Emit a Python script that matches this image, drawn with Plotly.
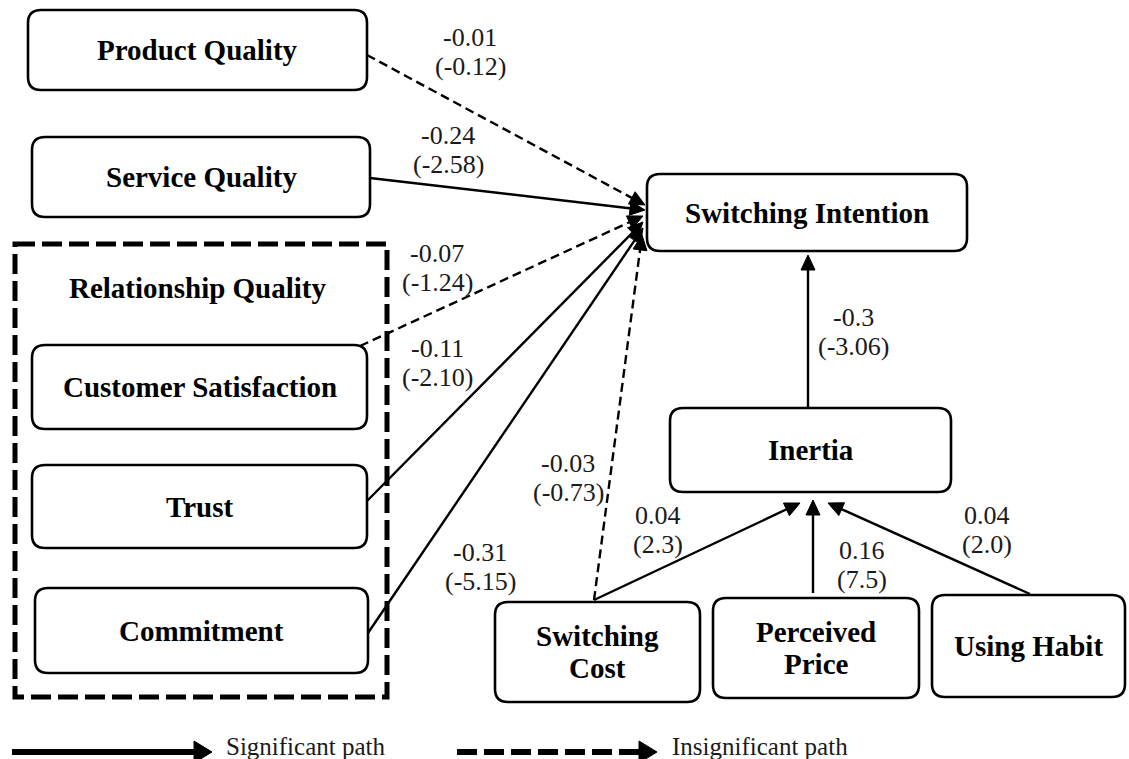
import math
import plotly.graph_objects as go

# ---------------- data ----------------
constructs = ["Product Quality", "Service Quality", "Customer Satisfaction", "Trust",
              "Commitment", "Switching Intention", "Inertia", "Switching Cost",
              "Perceived Price", "Using Habit"]
construct_labels = ["Product Quality", "Service Quality", "Customer Satisfaction", "Trust",
                    "Commitment", "Switching Intention", "Inertia", "Switching<br>Cost",
                    "Perceived<br>Price", "Using Habit"]
group_label = "Relationship Quality"

path_from = ["Product Quality", "Service Quality", "Customer Satisfaction", "Trust",
             "Commitment", "Switching Cost", "Switching Cost", "Perceived Price",
             "Using Habit", "Inertia"]
path_to = ["Switching Intention"] * 6 + ["Inertia"] * 3 + ["Switching Intention"]
path_beta = ["-0.01", "-0.24", "-0.07", "-0.11", "-0.31", "-0.03", "0.04", "0.16", "0.04", "-0.3"]
path_t = ["(-0.12)", "(-2.58)", "(-1.24)", "(-2.10)", "(-5.15)", "(-0.73)", "(2.3)", "(7.5)", "(2.0)", "(-3.06)"]
path_significant = [False, True, False, True, True, False, True, True, True, True]

legend_labels = ["Significant path", "Insignificant path"]

# ---------------- layout geometry (pixels) ----------------
W, H = 1129, 759
box_geom = {
    "Product Quality": (28, 10, 367, 90),
    "Service Quality": (32, 137, 370, 217),
    "Customer Satisfaction": (32, 345, 367, 429),
    "Trust": (32, 465, 367, 548),
    "Commitment": (35, 588, 368, 673),
    "Switching Intention": (647, 174, 967, 251),
    "Inertia": (670, 408, 951, 492),
    "Switching Cost": (495, 602, 700, 702),
    "Perceived Price": (713, 598, 919, 698),
    "Using Habit": (932, 595, 1125, 697),
}
group_geom = (15, 244, 387, 697)
group_label_pos = (198, 288)

edge_geom = [
    ((367, 55), (645, 205)),
    ((370, 178), (645, 210)),
    ((360, 346), (643, 216)),
    ((367, 501), (643, 222)),
    ((368, 633), (643, 228)),
    ((594, 600), (642, 235)),
    ((594, 600), (800, 503)),
    ((813, 593), (813, 500)),
    ((1030, 594), (828, 503)),
    ((808, 408), (808, 255)),
]
label_geom = [
    (470, 37), (448, 135), (437, 253), (437, 348), (480, 552),
    (568, 463), (658, 515), (862, 550), (987, 515), (853, 317),
]
LINE_GAP = 29

FONT = "Liberation Serif"
BOLD_SIZE = 29
NUM_SIZE = 26

shapes = []
annotations = []


def rrect(x0, y0, x1, y1, r):
    return (f"M{x0+r},{y0} L{x1-r},{y0} Q{x1},{y0} {x1},{y0+r} "
            f"L{x1},{y1-r} Q{x1},{y1} {x1-r},{y1} L{x0+r},{y1} "
            f"Q{x0},{y1} {x0},{y1-r} L{x0},{y0+r} Q{x0},{y0} {x0+r},{y0} Z")


def arrow(p0, p1, width, dash, head_len, head_half):
    (x0, y0), (x1, y1) = p0, p1
    dx, dy = x1 - x0, y1 - y0
    L = math.hypot(dx, dy)
    ux, uy = dx / L, dy / L
    bx, by = x1 - ux * head_len, y1 - uy * head_len
    shapes.append(dict(type="line", xref="x", yref="y", x0=x0, y0=y0, x1=bx + ux * 1.5, y1=by + uy * 1.5,
                       line=dict(color="black", width=width, dash=dash)))
    px, py = -uy, ux
    path = (f"M{x1},{y1} L{bx + px*head_half},{by + py*head_half} "
            f"L{bx - px*head_half},{by - py*head_half} Z")
    shapes.append(dict(type="path", xref="x", yref="y", path=path,
                       fillcolor="black", line=dict(color="black", width=1)))


# edges
for i in range(len(path_from)):
    p0, p1 = edge_geom[i]
    dash = "solid" if path_significant[i] else "9px,5px"
    arrow(p0, p1, 2.4, dash, 15, 7)
    lx, ly = label_geom[i]
    for k, txt in enumerate([path_beta[i], path_t[i]]):
        annotations.append(dict(x=lx, y=ly + k * LINE_GAP, xref="x", yref="y", text=txt,
                                showarrow=False, xanchor="center", yanchor="middle",
                                font=dict(family=FONT, size=NUM_SIZE, color="#1a1a1a")))

# group dashed rectangle
gx0, gy0, gx1, gy1 = group_geom
shapes.append(dict(type="rect", xref="x", yref="y", x0=gx0, y0=gy0, x1=gx1, y1=gy1,
                   line=dict(color="black", width=5, dash="20px,7px")))
annotations.append(dict(x=group_label_pos[0], y=group_label_pos[1], xref="x", yref="y",
                        text=f"<b>{group_label}</b>", showarrow=False,
                        font=dict(family=FONT, size=BOLD_SIZE, color="#000")))

# boxes
for name, lab in zip(constructs, construct_labels):
    x0, y0, x1, y1 = box_geom[name]
    shapes.append(dict(type="path", xref="x", yref="y", path=rrect(x0, y0, x1, y1, 13),
                       line=dict(color="black", width=2.6), fillcolor="rgba(0,0,0,0)"))
    lines = lab.split("<br>")
    cy = (y0 + y1) / 2
    n = len(lines)
    for k, t in enumerate(lines):
        yy = cy + (k - (n - 1) / 2) * 32
        annotations.append(dict(x=(x0 + x1) / 2, y=yy, xref="x", yref="y", text=f"<b>{t}</b>",
                                showarrow=False, xanchor="center", yanchor="middle",
                                font=dict(family=FONT, size=BOLD_SIZE, color="#000")))

# legend
arrow((12, 752), (212, 752), 6, "solid", 18, 11)
annotations.append(dict(x=224, y=746, xref="x", yref="y", text=legend_labels[0], showarrow=False,
                        xanchor="left", yanchor="middle", font=dict(family=FONT, size=25, color="#1a1a1a")))
arrow((457, 752), (657, 752), 6, "20px,7px", 18, 11)
annotations.append(dict(x=670, y=746, xref="x", yref="y", text=legend_labels[1], showarrow=False,
                        xanchor="left", yanchor="middle", font=dict(family=FONT, size=25, color="#1a1a1a")))

fig = go.Figure()
fig.update_layout(
    width=W, height=H,
    margin=dict(l=0, r=0, t=0, b=0),
    paper_bgcolor="white", plot_bgcolor="white",
    xaxis=dict(range=[0, W], visible=False, fixedrange=True),
    yaxis=dict(range=[H, 0], visible=False, fixedrange=True),
    shapes=shapes, annotations=annotations, showlegend=False,
)
fig.write_html("out.html", config={"displayModeBar": False},
               post_script="document.body.style.margin='0px';document.body.style.overflow='hidden';")
